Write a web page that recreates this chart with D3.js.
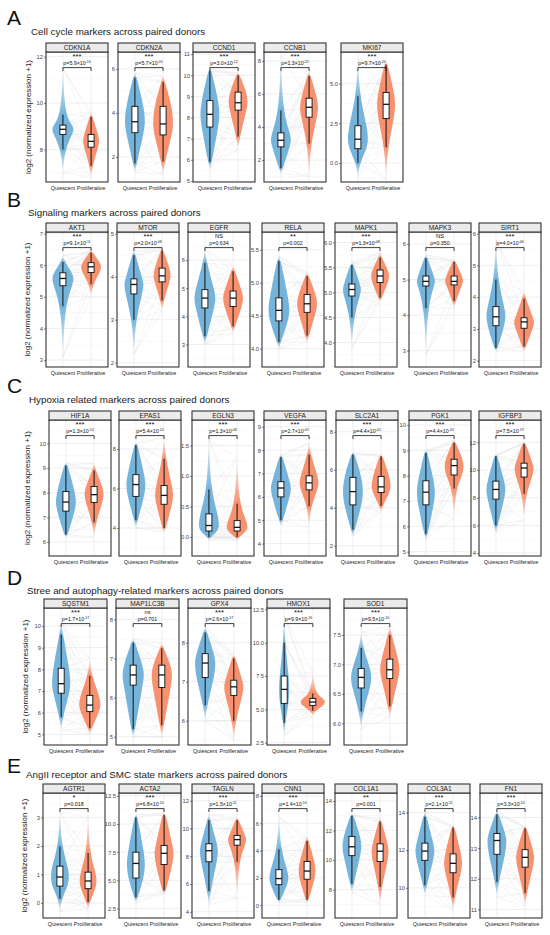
<!DOCTYPE html>
<html>
<head>
<meta charset="utf-8">
<script src="https://cdn.jsdelivr.net/npm/d3@7"></script>
<style>
  body { margin: 0; background: #fff; }
  text { font-family: "Liberation Sans", Arial, sans-serif; }
</style>
</head>
<body>
<svg id="chart" width="550" height="935"></svg>
<script>
// groups on the x axis of every facet
var groups = ['Quiescent', 'Proliferative'];

// violin stats per group: [tail low, whisker low, q1, median, q3, whisker high, tail high, relative width]

// ---- A: cell cycle
var genesA = ['CDKN1A', 'CDKN2A', 'CCND1', 'CCNB1', 'MKI67'];
var rangeA = [[6.6, 12.2], [0.86, 6.77], [4.95, 11.1], [0.67, 8.55], [-1.2, 7.0]];
var ticksA = [['8', '10', '12'], ['2', '4', '6'], ['5', '6', '7', '8', '9', '10', '11'], ['2', '4', '6', '8'], ['0.0', '2.5', '5.0']];
var quiesA = [
  [7.0, 8.0, 8.65, 8.87, 9.05, 9.5, 11.5, 1.05],
  [1.3, 1.7, 3.1, 3.6, 4.3, 5.6, 5.8, 1.0],
  [5.6, 5.9, 7.55, 8.15, 8.8, 10.2, 10.3, 0.95],
  [1.2, 1.5, 2.8, 3.2, 3.65, 5.0, 8.3, 1.0],
  [-0.9, 0.0, 0.9, 1.5, 2.35, 4.2, 6.5, 1.0]
];
var prolifA = [
  [6.8, 7.3, 8.1, 8.35, 8.65, 9.4, 9.6, 0.8],
  [1.2, 1.8, 3.0, 3.5, 4.3, 5.4, 5.7, 1.0],
  [6.5, 7.1, 8.35, 8.7, 9.2, 10.0, 10.1, 0.95],
  [1.0, 3.0, 4.6, 5.2, 5.75, 7.1, 7.3, 0.9],
  [-1.0, 1.0, 2.8, 3.7, 4.45, 6.2, 6.3, 0.9]
];
var starsA = ['***', '***', '***', '***', '***'];
var pvalA = ['5.9\u00d710^-16', '5.7\u00d710^-05', '3.0\u00d710^-12', '1.3\u00d710^-21', '9.7\u00d710^-20'];

// ---- B: signaling
var genesB = ['AKT1', 'MTOR', 'EGFR', 'RELA', 'MAPK1', 'MAPK3', 'SIRT1'];
var rangeB = [[2.78, 7.05], [1.9, 5.04], [2.2, 7.0], [3.72, 5.77], [3.51, 6.21], [2.54, 6.34], [1.8, 6.05]];
var ticksB = [['3', '4', '5', '6', '7'], ['2', '3', '4', '5'], ['3', '4', '5', '6'], ['4.0', '4.5', '5.0', '5.5'],
  ['4.0', '4.5', '5.0', '5.5', '6.0'], ['3', '4', '5', '6'], ['2', '3', '4', '5', '6']];
var quiesB = [
  [3.1, 4.7, 5.35, 5.58, 5.76, 6.1, 6.3, 1.05],
  [2.2, 3.0, 3.6, 3.82, 3.95, 4.5, 4.6, 0.95],
  [3.0, 3.3, 4.3, 4.65, 4.95, 5.9, 6.4, 1.05],
  [4.0, 4.1, 4.42, 4.58, 4.77, 5.33, 5.4, 1.05],
  [3.9, 4.5, 4.93, 5.06, 5.17, 5.55, 5.6, 0.9],
  [2.9, 4.2, 4.82, 4.95, 5.1, 5.6, 5.7, 0.9],
  [2.3, 2.4, 3.1, 3.38, 3.7, 4.55, 5.8, 0.95]
];
var prolifB = [
  [5.0, 5.4, 5.77, 5.95, 6.08, 6.4, 6.45, 1.0],
  [3.2, 3.45, 3.88, 4.02, 4.2, 4.6, 4.65, 0.85],
  [3.4, 3.65, 4.35, 4.65, 4.9, 5.6, 5.8, 1.0],
  [4.1, 4.2, 4.55, 4.68, 4.82, 5.1, 5.15, 1.0],
  [4.8, 4.9, 5.2, 5.33, 5.45, 5.7, 5.8, 0.9],
  [4.2, 4.4, 4.85, 4.95, 5.1, 5.5, 5.55, 0.9],
  [2.3, 2.45, 3.02, 3.22, 3.35, 3.95, 4.2, 1.0]
];
var starsB = ['***', '***', 'NS', '**', '***', 'NS', '***'];
var pvalB = ['9.1\u00d710^-11', '2.0\u00d710^-08', '0.634', '0.002', '1.3\u00d710^-08', '0.350', '4.0\u00d710^-06'];

// ---- C: hypoxia
var genesC = ['HIF1A', 'EPAS1', 'EGLN3', 'VEGFA', 'SLC2A1', 'PGK1', 'IGFBP3'];
var rangeC = [[5.43, 10.95], [2.58, 9.47], [-0.31, 1.92], [3.47, 9.29], [1.46, 8.62], [4.83, 10.2], [3.79, 13.62]];
var ticksC = [['6', '7', '8', '9', '10'], ['4', '6', '8'], ['0.0', '0.5', '1.0', '1.5'], ['4', '5', '6', '7', '8', '9'],
  ['2', '4', '6', '8'], ['5', '6', '7', '8', '9', '10'], ['4', '6', '8', '10', '12']];
var quiesC = [
  [6.2, 6.3, 7.25, 7.62, 8.05, 9.1, 9.2, 1.0],
  [4.0, 4.4, 5.6, 6.2, 6.7, 8.2, 8.3, 0.95],
  [-0.05, 0.0, 0.1, 0.19, 0.38, 0.78, 1.6, 1.0],
  [4.8, 5.0, 6.0, 6.38, 6.65, 7.7, 7.8, 1.0],
  [2.5, 2.85, 4.15, 4.85, 5.6, 6.8, 6.9, 1.0],
  [5.5, 5.7, 6.85, 7.35, 7.8, 8.9, 9.0, 0.9],
  [5.5, 6.0, 7.9, 8.6, 9.2, 11.0, 11.1, 0.95]
];
var prolifC = [
  [6.2, 6.8, 7.6, 7.92, 8.25, 8.9, 9.2, 0.95],
  [3.8, 4.0, 5.2, 5.65, 6.15, 7.5, 8.6, 0.9],
  [-0.05, 0.0, 0.1, 0.16, 0.27, 0.55, 1.3, 1.05],
  [4.7, 5.6, 6.3, 6.6, 6.9, 7.8, 8.3, 0.95],
  [3.8, 4.1, 4.8, 5.1, 5.65, 6.7, 6.8, 0.95],
  [6.3, 7.5, 8.03, 8.4, 8.65, 9.3, 9.4, 0.95],
  [6.4, 8.3, 9.5, 10.15, 10.5, 11.9, 12.0, 0.95]
];
var starsC = ['***', '***', '***', '***', '***', '***', '***'];
var pvalC = ['1.3\u00d710^-10', '5.4\u00d710^-10', '1.3\u00d710^-08', '2.7\u00d710^-09', '4.4\u00d710^-05', '4.4\u00d710^-20', '7.5\u00d710^-19'];

// ---- D: stress / autophagy
var genesD = ['SQSTM1', 'MAP1LC3B', 'GPX4', 'HMOX1', 'SOD1'];
var rangeD = [[4.51, 10.83], [4.79, 8.29], [5.38, 8.89], [2.33, 12.6], [5.63, 7.96]];
var ticksD = [['5', '6', '7', '8', '9', '10'], ['5', '6', '7', '8'], ['6', '7', '8'], ['2.5', '5.0', '7.5', '10.0', '12.5'], ['6.0', '6.5', '7.0', '7.5']];
var quiesD = [
  [5.2, 5.8, 6.9, 7.34, 8.05, 9.6, 10.2, 0.9],
  [5.0, 5.2, 6.32, 6.58, 6.83, 7.4, 7.5, 1.05],
  [6.0, 6.4, 7.11, 7.48, 7.72, 8.26, 8.4, 1.0],
  [3.0, 4.0, 5.45, 6.5, 7.5, 10.0, 12.0, 0.5],
  [5.9, 6.2, 6.6, 6.78, 6.93, 7.28, 7.55, 1.0]
];
var prolifD = [
  [5.0, 5.3, 6.05, 6.35, 6.8, 7.7, 8.5, 1.05],
  [5.0, 5.3, 6.26, 6.58, 6.83, 7.26, 7.4, 1.0],
  [5.5, 6.0, 6.65, 6.87, 7.04, 7.6, 7.7, 0.95],
  [4.5, 4.9, 5.3, 5.55, 5.82, 6.2, 7.8, 1.2],
  [6.1, 6.29, 6.76, 6.91, 7.09, 7.5, 7.65, 0.95]
];
var starsD = ['***', 'ns', '***', '***', '***'];
var pvalD = ['1.7\u00d710^-17', '0.701', '2.6\u00d710^-17', '9.9\u00d710^-16', '9.5\u00d710^-10'];

// ---- E: AngII receptor and SMC state
var genesE = ['AGTR1', 'ACTA2', 'TAGLN', 'CNN1', 'COL1A1', 'COL3A1', 'FN1'];
var rangeE = [[-0.53, 3.86], [1.65, 12.76], [3.55, 12.56], [-0.94, 8.22], [6.08, 14.54], [8.4, 15.03], [10.72, 14.8]];
var ticksE = [['0', '1', '2', '3'], ['2.5', '5.0', '7.5', '10.0', '12.5'], ['4', '6', '8', '10', '12'], ['0', '2', '4', '6', '8'],
  ['8', '10', '12', '14'], ['10', '12', '14'], ['11', '12', '13', '14']];
var quiesE = [
  [-0.3, 0.15, 0.59, 0.91, 1.29, 1.98, 3.2, 0.9],
  [3.0, 3.5, 5.2, 6.5, 7.5, 10.6, 10.8, 0.9],
  [4.5, 5.5, 7.6, 8.4, 8.9, 10.6, 11.0, 0.9],
  [0.2, 0.4, 1.5, 1.95, 2.6, 4.1, 6.5, 0.95],
  [7.8, 8.4, 10.3, 10.9, 11.6, 13.0, 13.1, 0.95],
  [9.6, 10.14, 11.46, 11.95, 12.37, 13.77, 14.0, 0.95],
  [11.4, 11.9, 12.8, 13.25, 13.48, 14.1, 14.2, 0.95]
];
var prolifE = [
  [-0.2, 0.03, 0.5, 0.77, 1.08, 1.75, 3.0, 0.85],
  [3.8, 4.1, 6.4, 7.4, 8.1, 10.8, 11.0, 0.95],
  [5.0, 7.6, 8.8, 9.2, 9.5, 10.6, 10.8, 0.9],
  [0.2, 0.4, 1.9, 2.5, 3.2, 4.7, 5.0, 0.85],
  [7.0, 8.2, 9.9, 10.6, 11.1, 12.6, 12.8, 0.85],
  [8.8, 9.5, 10.8, 11.3, 11.8, 13.2, 13.3, 0.9],
  [11.1, 11.54, 12.38, 12.7, 12.95, 13.65, 13.7, 0.9]
];
var starsE = ['*', '***', '***', '***', '**', '***', '***'];
var pvalE = ['0.018', '6.8\u00d710^-10', '1.5\u00d710^-11', '1.4\u00d710^-10', '0.001', '2.1\u00d710^-11', '3.3\u00d710^-10'];

var sections = [
  {letter: 'A', title: 'Cell cycle markers across paired donors', letterY: 25, titleX: 31, titleY: 35, plotTop: 52, plotBottom: 182, axisX: 31,
   lefts: [46, 118, 193, 264, 341], width: 62,
   genes: genesA, ranges: rangeA, ticks: ticksA, quies: quiesA, prolif: prolifA, stars: starsA, pvals: pvalA},
  {letter: 'B', title: 'Signaling markers across paired donors', letterY: 207, titleX: 28, titleY: 216, plotTop: 232, plotBottom: 367, axisX: 30,
   lefts: [46, 117, 188, 262, 335, 409, 479], width: 62,
   genes: genesB, ranges: rangeB, ticks: ticksB, quies: quiesB, prolif: prolifB, stars: starsB, pvals: pvalB},
  {letter: 'C', title: 'Hypoxia related markers across paired donors', letterY: 393, titleX: 29, titleY: 403, plotTop: 420, plotBottom: 556, axisX: 30,
   lefts: [49, 119, 192, 264, 336, 409, 479], width: 62,
   genes: genesC, ranges: rangeC, ticks: ticksC, quies: quiesC, prolif: prolifC, stars: starsC, pvals: pvalC},
  {letter: 'D', title: 'Stree and autophagy-related markers across paired donors', letterY: 585, titleX: 27, titleY: 594, plotTop: 608, plotBottom: 745, axisX: 28,
   lefts: [44, 116, 188, 267, 344], width: 63,
   genes: genesD, ranges: rangeD, ticks: ticksD, quies: quiesD, prolif: prolifD, stars: starsD, pvals: pvalD},
  {letter: 'E', title: 'AngII receptor and SMC state markers across paired donors', letterY: 773, titleX: 26, titleY: 778, plotTop: 793, plotBottom: 918, axisX: 27,
   lefts: [43, 119, 192, 262, 335, 408, 480], width: 62,
   genes: genesE, ranges: rangeE, ticks: ticksE, quies: quiesE, prolif: prolifE, stars: starsE, pvals: pvalE}
];

var blue = '#66abd7';
var orange = '#f6855f';
var stripH = 9;

var svg = d3.select('#chart');
var defs = svg.append('defs');
var gradCount = 0;

var drawViolin = function(g, x, y, grp, st, color) {
  var cx = x(grp);
  var hm = x.step() * 0.5 * 0.74 * st[7];
  var prof = [[st[0], 0], [st[1], 0.18], [st[2], 0.85], [st[3], 1], [st[4], 0.85], [st[5], 0.18], [st[6], 0]];
  var id = 'vg' + (gradCount++);
  var yTop = y(st[6]), yBot = y(st[0]);
  var span = yBot - yTop;
  var grad = defs.append('linearGradient').attr('id', id)
    .attr('gradientUnits', 'userSpaceOnUse')
    .attr('x1', 0).attr('x2', 0).attr('y1', yTop).attr('y2', yBot);
  grad.append('stop').attr('offset', 0).attr('stop-color', color).attr('stop-opacity', 0.04);
  grad.append('stop').attr('offset', (y(st[5]) - yTop) / span).attr('stop-color', color).attr('stop-opacity', 0.9);
  grad.append('stop').attr('offset', (y(st[1]) - yTop) / span).attr('stop-color', color).attr('stop-opacity', 0.9);
  grad.append('stop').attr('offset', 1).attr('stop-color', color).attr('stop-opacity', 0.04);

  var area = d3.area().curve(d3.curveBasis)
    .y(function(d) { return y(d[0]); })
    .x0(function(d) { return cx - d[1] * hm; })
    .x1(function(d) { return cx + d[1] * hm; });
  g.append('path').attr('d', area(prof)).attr('fill', 'url(#' + id + ')');
};

var drawBox = function(g, x, y, grp, st) {
  var cx = x(grp), bw = 3;
  g.append('line').attr('x1', cx).attr('x2', cx).attr('y1', y(st[1])).attr('y2', y(st[5]))
    .attr('stroke', '#111').attr('stroke-width', 1);
  g.append('rect').attr('x', cx - bw).attr('width', bw * 2)
    .attr('y', y(st[4])).attr('height', y(st[2]) - y(st[4]))
    .attr('fill', '#fff').attr('stroke', '#111').attr('stroke-width', 0.9);
  g.append('line').attr('x1', cx - bw).attr('x2', cx + bw).attr('y1', y(st[3])).attr('y2', y(st[3]))
    .attr('stroke', '#111').attr('stroke-width', 1.3);
};

var drawSection = function(s) {
  var h = s.plotBottom - s.plotTop;
  svg.append('text').attr('x', 7).attr('y', s.letterY).attr('font-size', 21).attr('fill', '#111').text(s.letter);
  svg.append('text').attr('x', s.titleX).attr('y', s.titleY).attr('font-size', 9.8).attr('fill', '#1a1a1a').text(s.title);
  svg.append('text')
    .attr('transform', 'translate(' + s.axisX + ',' + ((s.plotTop + s.plotBottom) / 2) + ') rotate(-90)')
    .attr('text-anchor', 'middle').attr('font-size', 8).attr('fill', '#1a1a1a')
    .text('log2 (normalized expression +1)');

  s.genes.forEach(function(gene, i) {
    var w = s.width;
    var g = svg.append('g').attr('transform', 'translate(' + s.lefts[i] + ',' + s.plotTop + ')');
    var x = d3.scalePoint().domain(groups).range([0, w]).padding(0.6);
    var y = d3.scaleLinear().domain(s.ranges[i]).range([h, 0]);
    var tv = s.ticks[i].map(Number);
    var dom = s.ranges[i];

    // grid
    var stepT = tv[1] - tv[0];
    var minor = [];
    for (var k = -1; k < tv.length; k++) {
      var m = tv[0] + stepT * (k + 0.5);
      if (m > dom[0] && m < dom[1]) minor.push(m);
    }
    g.selectAll('.minor').data(minor).enter().append('line')
      .attr('x1', 0).attr('x2', w).attr('y1', function(d) { return y(d); }).attr('y2', function(d) { return y(d); })
      .attr('stroke', '#f3f3f3').attr('stroke-width', 0.5);
    g.selectAll('.major').data(tv).enter().append('line')
      .attr('x1', 0).attr('x2', w).attr('y1', function(d) { return y(d); }).attr('y2', function(d) { return y(d); })
      .attr('stroke', '#e8e8e8').attr('stroke-width', 0.7);
    g.selectAll('.vgrid').data(groups).enter().append('line')
      .attr('x1', function(d) { return x(d); }).attr('x2', function(d) { return x(d); })
      .attr('y1', 0).attr('y2', h).attr('stroke', '#e8e8e8').attr('stroke-width', 0.7);

    // paired donor lines between matching quantiles
    var q = s.quies[i].slice(0, 7), p = s.prolif[i].slice(0, 7);
    var pairs = [];
    q.forEach(function(a, ia) {
      p.forEach(function(b, ib) {
        if (Math.abs(ia - ib) <= 2) pairs.push([a, b]);
      });
    });
    g.selectAll('.pair').data(pairs).enter().append('line')
      .attr('x1', x('Quiescent')).attr('x2', x('Proliferative'))
      .attr('y1', function(d) { return y(d[0]); }).attr('y2', function(d) { return y(d[1]); })
      .attr('stroke', '#999').attr('stroke-opacity', 0.28).attr('stroke-width', 0.35);

    drawViolin(g, x, y, 'Quiescent', s.quies[i], blue);
    drawViolin(g, x, y, 'Proliferative', s.prolif[i], orange);
    drawBox(g, x, y, 'Quiescent', s.quies[i]);
    drawBox(g, x, y, 'Proliferative', s.prolif[i]);

    // significance bracket
    var xa = x('Quiescent'), xb = x('Proliferative');
    g.append('path').attr('d', 'M' + xa + ',19V15.6H' + xb + 'V19')
      .attr('fill', 'none').attr('stroke', '#111').attr('stroke-width', 0.8);
    var isStar = s.stars[i].indexOf('*') >= 0;
    g.append('text').attr('x', w / 2).attr('y', isStar ? 6.8 : 6.2).attr('text-anchor', 'middle')
      .attr('font-size', isStar ? 7.6 : 5.8).attr('fill', '#111').text(s.stars[i]);
    var pv = s.pvals[i].split('^');
    var pt = g.append('text').attr('x', w / 2).attr('y', 13.4).attr('text-anchor', 'middle')
      .attr('font-size', 5.3).attr('fill', '#111');
    pt.append('tspan').text('p=' + pv[0]);
    if (pv.length > 1) {
      pt.append('tspan').attr('dy', -2.2).attr('font-size', 3.4).text(pv[1]);
    }

    // panel border
    g.append('rect').attr('width', w).attr('height', h).attr('fill', 'none')
      .attr('stroke', '#333').attr('stroke-width', 1.1);

    // strip
    g.append('rect').attr('y', -stripH).attr('width', w).attr('height', stripH)
      .attr('fill', '#ebebeb').attr('stroke', '#333').attr('stroke-width', 1.1);
    g.append('text').attr('x', w / 2).attr('y', -2.3).attr('text-anchor', 'middle')
      .attr('font-size', 6.6).attr('fill', '#1a1a1a').text(gene);

    // y axis
    var ax = g.append('g').call(d3.axisLeft(y).tickValues(tv).tickSize(2).tickPadding(1)
      .tickFormat(function(d, k) { return s.ticks[i][k]; }));
    ax.select('.domain').remove();
    ax.selectAll('line').attr('stroke', '#333').attr('stroke-width', 0.6);
    ax.selectAll('text').attr('font-size', 5.8).attr('fill', '#444')
      .attr('font-family', '"Liberation Sans", Arial, sans-serif');

    // x labels
    g.selectAll('.xl').data(groups).enter().append('text')
      .attr('x', function(d) { return x(d); }).attr('y', h + 8)
      .attr('text-anchor', 'middle').attr('font-size', 5.4).attr('fill', '#222')
      .text(function(d) { return d; });
  });
};

sections.forEach(drawSection);
</script>
</body>
</html>
